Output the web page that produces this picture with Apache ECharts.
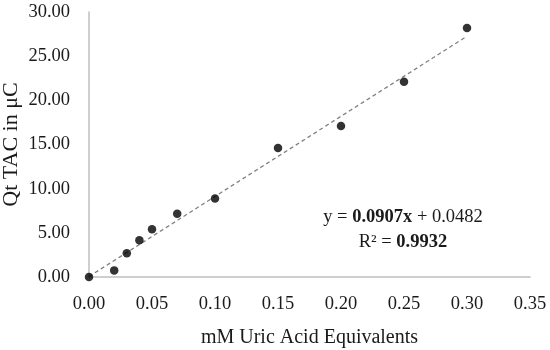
<!DOCTYPE html>
<html><head><meta charset="utf-8">
<script src="https://cdn.jsdelivr.net/npm/echarts@6/dist/echarts.min.js"></script>
<style>html,body{margin:0;padding:0;background:#fff}#c{width:550px;height:350px}</style>
</head><body><div id="c"></div>
<script>
const xValues = [0, 0.02, 0.03, 0.04, 0.05, 0.07, 0.10, 0.15, 0.20, 0.25, 0.30];
const yValues = [0, 0.75, 2.7, 4.15, 5.4, 7.15, 8.9, 14.6, 17.1, 22.1, 28.2];
const trendX = [0, 0.30];
const trendY = [0.05, 27.26];
const xTicks = ['0.00','0.05','0.10','0.15','0.20','0.25','0.30','0.35'];
const yTicks = ['0.00','5.00','10.00','15.00','20.00','25.00','30.00'];
const equationText = ['y = ', '0.0907x', ' + 0.0482'];
const r2Text = ['R² = ', '0.9932'];

const FONT = 'Liberation Serif';
const chart = echarts.init(document.getElementById('c'));
chart.setOption({
  animation: false,
  textStyle: {fontFamily: FONT},
  grid: {left: 89, right: 20, top: 12, bottom: 73, containLabel: false, outerBoundsMode: 'none'},
  xAxis: {
    type: 'value', min: 0, max: 0.35, interval: 0.05,
    name: 'mM Uric Acid Equivalents', nameLocation: 'middle', nameGap: 51, nameMoveOverlap: false,
    nameTextStyle: {fontFamily: FONT, fontSize: 20, color: '#1a1a1a'},
    axisLine: {show: true, lineStyle: {color: '#bfbfbf', width: 1.5}},
    axisTick: {show: false}, splitLine: {show: false},
    axisLabel: {fontFamily: FONT, fontSize: 18.5, color: '#1a1a1a', margin: 18,
      formatter: v => xTicks[Math.round(v / 0.05)]}
  },
  yAxis: {
    type: 'value', min: 0, max: 30, interval: 5,
    name: 'Qt TAC in μC', nameLocation: 'middle', nameGap: 67, nameRotate: 90, nameMoveOverlap: false,
    nameTextStyle: {fontFamily: FONT, fontSize: 22, color: '#1a1a1a'},
    axisLine: {show: true, lineStyle: {color: '#bfbfbf', width: 1.5}},
    axisTick: {show: false}, splitLine: {show: false},
    axisLabel: {fontFamily: FONT, fontSize: 18.5, color: '#1a1a1a', margin: 19,
      formatter: v => yTicks[Math.round(v / 5)]}
  },
  series: [
    {type: 'line', data: trendX.map((x, i) => [x, trendY[i]]), symbol: 'none',
     lineStyle: {color: '#808080', width: 1.3, type: [4, 3]}, z: 1},
    {type: 'scatter', data: xValues.map((x, i) => [x, yValues[i]]), symbol: 'circle',
     symbolSize: 8.5, itemStyle: {color: '#000'}, z: 2}
  ],
  graphic: [
    {type: 'text', x: 403, y: 217, style: {
      text: '{n|' + equationText[0] + '}{b|' + equationText[1] + '}{n|' + equationText[2] + '}',
      align: 'center', verticalAlign: 'middle',
      rich: {n: {fontFamily: FONT, fontSize: 18.5, fill: '#1a1a1a'}, b: {fontFamily: FONT, fontSize: 18.5, fontWeight: 'bold', fill: '#1a1a1a'}}}},
    {type: 'text', x: 403, y: 242, style: {
      text: '{n|' + r2Text[0] + '}{b|' + r2Text[1] + '}',
      align: 'center', verticalAlign: 'middle',
      rich: {n: {fontFamily: FONT, fontSize: 18.5, fill: '#1a1a1a'}, b: {fontFamily: FONT, fontSize: 18.5, fontWeight: 'bold', fill: '#1a1a1a'}}}}
  ]
});
</script></body></html>
